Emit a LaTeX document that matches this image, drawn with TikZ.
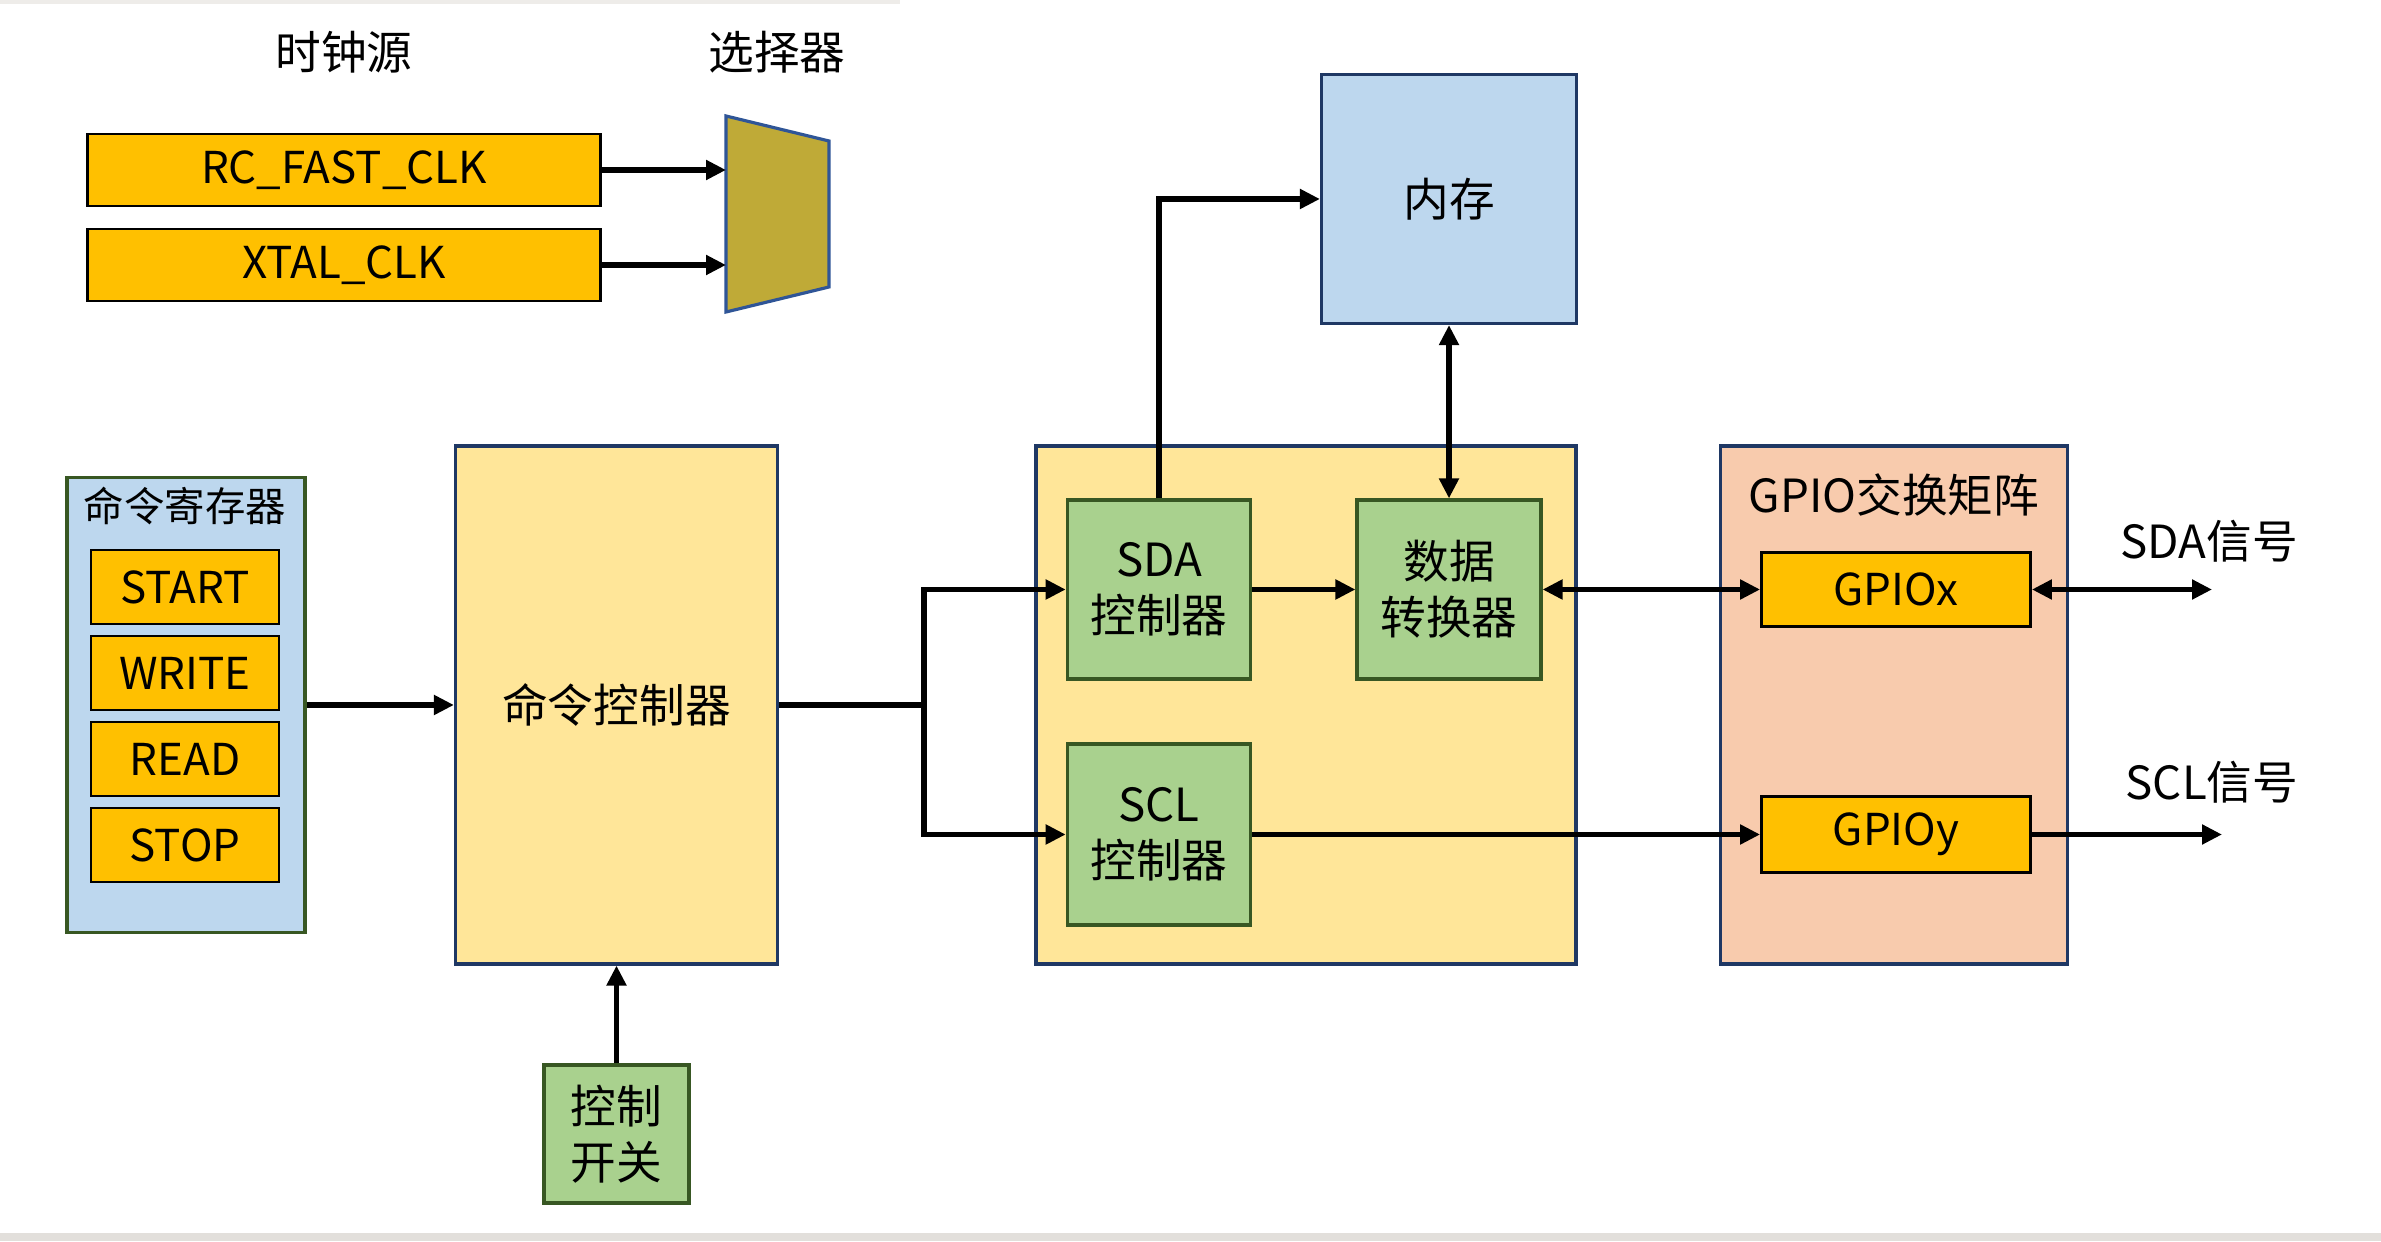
\documentclass[tikz,border=0pt]{standalone}
\usepackage{fontspec}
\setmainfont{Noto Sans CJK SC}
\usepackage{xcolor}
\usepackage{tikz}
\usetikzlibrary{arrows.meta, positioning, calc}
\definecolor{icgold}{RGB}{255,192,0}
\definecolor{iclemon}{RGB}{255,230,153}
\definecolor{icsky}{RGB}{189,215,238}
\definecolor{icleaf}{RGB}{169,209,142}
\definecolor{icpeach}{RGB}{248,203,173}
\definecolor{icolive}{RGB}{191,170,55}
\definecolor{icnavy}{RGB}{31,56,100}
\definecolor{icforest}{RGB}{56,87,35}
\definecolor{icmuxline}{RGB}{47,85,151}
\definecolor{icshade}{RGB}{226,223,219}

\begin{document}
\begin{tikzpicture}[x=1cm, y=1cm,
  every node/.style={font=\fontsize{13}{16}\selectfont, inner sep=0pt},
  goldbox/.style={draw=black, line width=0.8pt, fill=icgold, font=\fontsize{12.5}{15}\selectfont},
  lemonbox/.style={draw=icnavy, line width=0.9pt, fill=iclemon},
  skybox/.style={draw=icnavy, line width=0.9pt, fill=icsky},
  leafbox/.style={draw=icforest, line width=0.9pt, fill=icleaf, align=center},
  peachbox/.style={draw=icnavy, line width=0.9pt, fill=icpeach},
  regbox/.style={draw=icforest, line width=0.9pt, fill=icsky},
  wire/.style={draw=black, line width=1.7pt},
  flow/.style={wire, -{Triangle[length=2mm, width=1.9mm]}},
  bothflow/.style={wire, {Triangle[length=2mm, width=1.9mm]}-{Triangle[length=2mm, width=1.9mm]}}]
% canvas
\useasboundingbox (0,0) rectangle (23.81,12.41);
\fill[white] (0,0) rectangle (23.81,12.41);
\fill[icshade] (0,0) rectangle (23.81,0.08);
\fill[icshade!60] (0,12.37) rectangle (9.0,12.41);

% ---- clock source + selector ----
\node (clktitle) at (3.44,11.89) {时钟源};
\node (seltitle) at (7.77,11.89) {选择器};
\node[goldbox, minimum width=5.13cm, minimum height=0.72cm] (rcfast) at (3.44,10.71) {RC\_FAST\_CLK};
\node[goldbox, minimum width=5.13cm, minimum height=0.72cm] (xtal) at (3.44,9.76) {XTAL\_CLK};
\coordinate (mux-nw) at (7.26,11.25);
\coordinate (mux-ne) at (8.29,11.00);
\coordinate (mux-se) at (8.29,9.54);
\coordinate (mux-sw) at (7.26,9.29);
\filldraw[fill=icolive, draw=icmuxline, line width=0.9pt]
  (mux-nw) -- (mux-ne) -- (mux-se) -- (mux-sw) -- cycle;
\draw[flow] (rcfast.east) -- (rcfast.east -| mux-nw);
\draw[flow] (xtal.east) -- (xtal.east -| mux-nw);

% ---- command register ----
\node[regbox, minimum width=2.38cm, minimum height=4.55cm] (cmdreg) at (1.86,5.36) {};
\node[font=\fontsize{11.5}{14}\selectfont] (cmdregtitle) at (1.85,7.35) {命令寄存器};
\foreach \y/\nm/\lbl in {6.54/start/START, 5.68/write/WRITE, 4.82/read/READ, 3.96/stop/STOP}{
  \node[goldbox, minimum width=1.88cm, minimum height=0.74cm] (\nm) at (1.85,\y) {\lbl};
}

% ---- command controller ----
\node[lemonbox, minimum width=3.22cm, minimum height=5.18cm] (cmdctl) at (6.165,5.36) {命令控制器};
\node[leafbox, minimum width=1.45cm, minimum height=1.38cm] (ctrlsw) at (6.165,1.07) {控制\\开关};
\draw[flow] (cmdreg.east) -- (cmdctl.west);
\draw[flow] (ctrlsw.north) -- (cmdctl.south);

% ---- I2C core ----
\node[lemonbox, minimum width=5.40cm, minimum height=5.18cm] (core) at (13.06,5.36) {};
\node[leafbox, minimum width=1.835cm, minimum height=1.79cm] (sdactl) at (11.59,6.515) {SDA\\控制器};
\node[leafbox, minimum width=1.835cm, minimum height=1.81cm] (sclctl) at (11.59,4.065) {SCL\\控制器};
\node[leafbox, minimum width=1.84cm, minimum height=1.79cm] (dconv) at (14.49,6.515) {数据\\转换器};
\node[skybox, minimum width=2.55cm, minimum height=2.49cm] (mem) at (14.49,10.42) {内存};
\coordinate (split) at ($(cmdctl.east)+(1.445,0)$);
\draw[wire] (cmdctl.east) -- (split);
\draw[flow] (split) |- (sdactl.west);
\draw[flow] (split) |- (sclctl.west);
\draw[flow] (sdactl.north) |- (mem.west);
\draw[flow] (sdactl.east) -- (dconv.west);
\draw[bothflow] (mem.south) -- (dconv.north);

% ---- GPIO matrix ----
\node[peachbox, minimum width=3.475cm, minimum height=5.18cm] (gpio) at (18.94,5.36) {};
\node (gpiotitle) at (18.94,7.46) {GPIO交换矩阵};
\node[goldbox, minimum width=2.69cm, minimum height=0.745cm] (gpiox) at (18.96,6.515) {GPIOx};
\node[goldbox, minimum width=2.69cm, minimum height=0.76cm] (gpioy) at (18.96,4.065) {GPIOy};
\draw[bothflow] (dconv.east) -- (gpiox.west);
\draw[flow] (sclctl.east) -- (gpioy.west);

% signals out
\coordinate (sdaout) at (22.12,6.515);
\coordinate (sclout) at (22.22,4.065);
\node (sdalbl) at (22.09,7.00) {SDA信号};
\node (scllbl) at (22.12,4.59) {SCL信号};
\draw[bothflow] (gpiox.east) -- (sdaout);
\draw[flow] (gpioy.east) -- (sclout);
\end{tikzpicture}
\end{document}
